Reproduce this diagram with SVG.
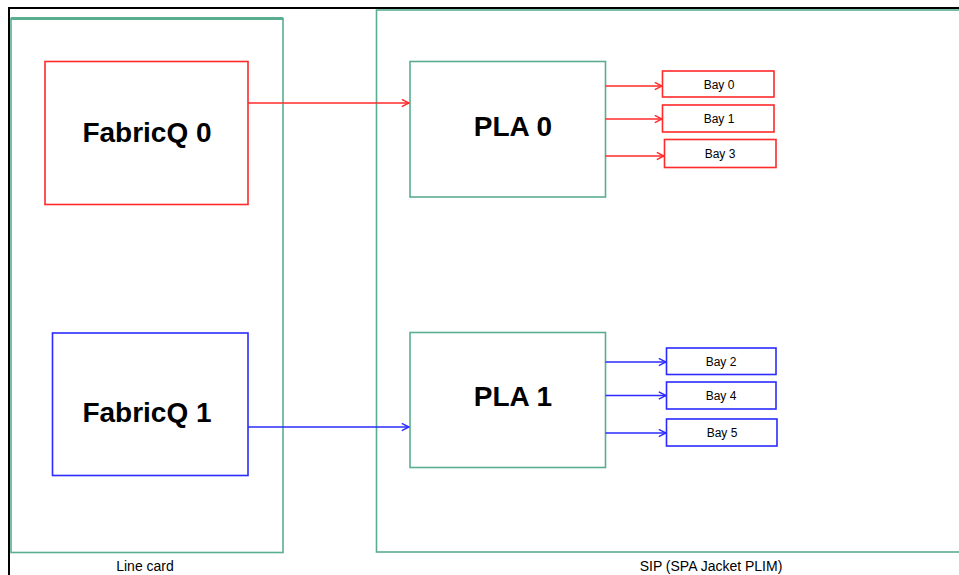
<svg xmlns="http://www.w3.org/2000/svg" width="959" height="575" viewBox="0 0 959 575">
<style>
.frame{fill:none;stroke:#5aae8f;stroke-width:1.6}
.red{fill:#fff;stroke:#ff2a2a;stroke-width:1.6}
.blue{fill:#fff;stroke:#2b2bff;stroke-width:1.6}
.big{font-family:"Liberation Sans",Arial,sans-serif;font-weight:bold;font-size:28px;fill:#000;text-anchor:middle}
.bay{font-family:"Liberation Sans",Arial,sans-serif;font-size:12px;fill:#000;text-anchor:middle}
.lbl{font-family:"Liberation Sans",Arial,sans-serif;font-size:14px;fill:#000;text-anchor:middle}
.cr{stroke:#ff2a2a;stroke-width:1.4;fill:none}
.cb{stroke:#2b2bff;stroke-width:1.4;fill:none}
</style>
<defs>
<marker id="ar" viewBox="0 0 10 10" refX="9" refY="5" markerWidth="9" markerHeight="9" markerUnits="userSpaceOnUse" orient="auto"><path d="M1,1 L9,5 L1,9" fill="none" stroke="#ff2a2a" stroke-width="1.6"/></marker>
<marker id="ab" viewBox="0 0 10 10" refX="9" refY="5" markerWidth="9" markerHeight="9" markerUnits="userSpaceOnUse" orient="auto"><path d="M1,1 L9,5 L1,9" fill="none" stroke="#2b2bff" stroke-width="1.6"/></marker>
</defs>
<rect width="959" height="575" fill="#fff"/>
<path d="M9,575 V8 H959" fill="none" stroke="#000" stroke-width="2"/>
<g id="linecard">
<rect class="frame" x="11" y="18.5" width="272" height="534"/>
<line x1="11" y1="18.5" x2="283" y2="18.5" stroke="#5aae8f" stroke-width="3"/>
<text class="lbl" x="145" y="571">Line card</text>
</g>
<g id="sip">
<rect class="frame" x="376.5" y="10" width="600" height="542"/>
<text class="lbl" x="711" y="571">SIP (SPA Jacket PLIM)</text>
</g>
<g id="fabricq0">
<rect class="red" x="45" y="61.5" width="203" height="143"/>
<text class="big" x="147" y="142">FabricQ 0</text>
</g>
<g id="fabricq1">
<rect class="blue" x="52.5" y="333" width="195.5" height="142.5"/>
<text class="big" x="147" y="422">FabricQ 1</text>
</g>
<g id="pla0">
<rect class="frame" x="410" y="61.5" width="195.5" height="135.5"/>
<text class="big" x="513" y="136" font-size="27">PLA 0</text>
</g>
<g id="pla1">
<rect class="frame" x="410" y="332.5" width="195.5" height="135"/>
<text class="big" x="513" y="406" font-size="27">PLA 1</text>
</g>
<g id="bay0"><rect class="red" x="662.5" y="71" width="111.5" height="26"/><text class="bay" x="719" y="88.5">Bay 0</text></g>
<g id="bay1"><rect class="red" x="662.5" y="105" width="111.5" height="27"/><text class="bay" x="719" y="123">Bay 1</text></g>
<g id="bay3"><rect class="red" x="664.5" y="139.5" width="111.5" height="28"/><text class="bay" x="720" y="158">Bay 3</text></g>
<g id="bay2"><rect class="blue" x="666.5" y="348" width="109.5" height="26.5"/><text class="bay" x="721" y="366">Bay 2</text></g>
<g id="bay4"><rect class="blue" x="666.5" y="382" width="109.5" height="27"/><text class="bay" x="721" y="400">Bay 4</text></g>
<g id="bay5"><rect class="blue" x="666.5" y="419" width="110.5" height="27"/><text class="bay" x="722" y="437">Bay 5</text></g>
<g id="connectors">
<line class="cr" x1="248" y1="103" x2="409" y2="103" marker-end="url(#ar)"/>
<line class="cb" x1="248" y1="427" x2="409" y2="427" marker-end="url(#ab)"/>
<line class="cr" x1="605.5" y1="86" x2="662" y2="86" marker-end="url(#ar)"/>
<line class="cr" x1="605.5" y1="119" x2="662" y2="119" marker-end="url(#ar)"/>
<line class="cr" x1="605.5" y1="156" x2="664" y2="156" marker-end="url(#ar)"/>
<line class="cb" x1="605.5" y1="362" x2="666" y2="362" marker-end="url(#ab)"/>
<line class="cb" x1="605.5" y1="395.5" x2="666" y2="395.5" stroke-width="2.6" marker-end="url(#ab)"/>
<line class="cb" x1="605.5" y1="433" x2="666" y2="433" marker-end="url(#ab)"/>
</g>
</svg>
